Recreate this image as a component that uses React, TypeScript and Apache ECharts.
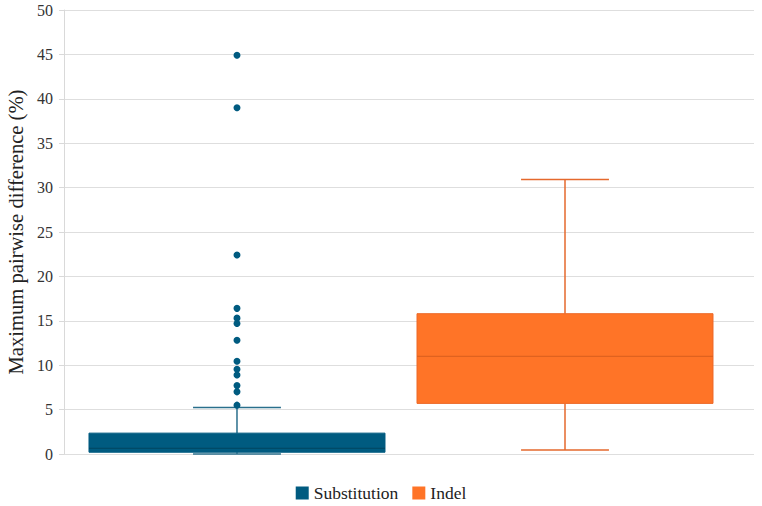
import React, { useEffect, useRef } from "react";
import * as echarts from "echarts";

const categories = ["Substitution", "Indel"];
// [min, q1, median, q3, max]
const boxSubstitution = [0, 0.2, 0.65, 2.35, 5.25];
const boxIndel = [0.45, 5.7, 11.0, 15.8, 30.9];
const outliersSubstitution = [44.9, 39.0, 22.4, 16.4, 15.3, 14.7, 12.8, 10.45, 9.55, 8.9, 7.7, 7.0, 5.5];
const yTicks = [0, 5, 10, 15, 20, 25, 30, 35, 40, 45, 50];

const colors = {
  Substitution: { fill: "#005B80", border: "#005B80", median: "#00445f", whisker: "#2a6f8c" },
  Indel: { fill: "#FF7427", border: "#EC6827", median: "#E0621F", whisker: "#E5692D" },
};

const FONT = "Liberation Serif";

function makeRenderItem(c: { fill: string; border: string; median: string; whisker: string }) {
  return (params: any, api: any) => {
    const idx = api.value(0);
    const vmin = api.value(1);
    const q1 = api.value(2);
    const med = api.value(3);
    const q3 = api.value(4);
    const vmax = api.value(5);
    const unit = api.size([1, 0])[0];
    const boxW = unit * 0.9024;
    const capW = unit * 0.268;
    const pMin = api.coord([idx, vmin]);
    const pQ1 = api.coord([idx, q1]);
    const pMed = api.coord([idx, med]);
    const pQ3 = api.coord([idx, q3]);
    const pMax = api.coord([idx, vmax]);
    const x = pMin[0];
    return {
      type: "group",
      children: [
        { type: "line", shape: { x1: x, y1: pMax[1], x2: x, y2: pQ3[1] }, style: { stroke: c.whisker, lineWidth: 1.5 } },
        { type: "line", shape: { x1: x, y1: pMin[1], x2: x, y2: pQ1[1] }, style: { stroke: c.whisker, lineWidth: 1.5 } },
        { type: "line", shape: { x1: x - capW / 2, y1: pMax[1], x2: x + capW / 2, y2: pMax[1] }, style: { stroke: c.whisker, lineWidth: 1.5 } },
        { type: "line", shape: { x1: x - capW / 2, y1: pMin[1], x2: x + capW / 2, y2: pMin[1] }, style: { stroke: c.whisker, lineWidth: 1.5 } },
        {
          type: "rect",
          shape: { x: x - boxW / 2, y: pQ3[1], width: boxW, height: pQ1[1] - pQ3[1] },
          style: { fill: c.fill, stroke: c.border, lineWidth: 1 },
        },
        { type: "line", shape: { x1: x - boxW / 2, y1: pMed[1], x2: x + boxW / 2, y2: pMed[1] }, style: { stroke: c.median, lineWidth: 1.2 } },
      ],
    };
  };
}

export default function App() {
  const ref = useRef<HTMLDivElement>(null);
  useEffect(() => {
    if (!ref.current) return;
    const chart = echarts.init(ref.current, null, { renderer: "svg" });
    const option: any = {
      animation: false,
      backgroundColor: "#ffffff",
      textStyle: { fontFamily: FONT },
      grid: { left: 64, right: 8, top: 10, bottom: 52, outerBoundsMode: "none", containLabel: false },
      legend: {
        data: [
          { name: categories[0], itemStyle: { color: colors.Substitution.fill } },
          { name: categories[1], itemStyle: { color: colors.Indel.fill } },
        ],
        top: 479,
        left: "center",
        icon: "rect",
        itemWidth: 13,
        itemHeight: 13,
        itemGap: 14,
        textStyle: { fontFamily: FONT, fontSize: 17.5, color: "#222" },
      },
      xAxis: {
        type: "value",
        min: -0.5274,
        max: 1.5762,
        axisLine: { show: false },
        axisTick: { show: false },
        axisLabel: { show: false },
        splitLine: { show: false },
      },
      yAxis: {
        type: "value",
        min: 0,
        max: 50,
        interval: 5,
        name: "Maximum pairwise difference (%)",
        nameLocation: "middle",
        nameGap: 38,
        nameTextStyle: { fontFamily: FONT, fontSize: 20.6, color: "#222" },
        axisLine: { show: true, onZero: false, lineStyle: { color: "#d9d9d9", width: 1 } },
        axisTick: { show: true, length: 5, lineStyle: { color: "#d9d9d9" } },
        axisLabel: {
          fontFamily: FONT,
          fontSize: 16,
          color: "#333",
          margin: 11,
          formatter: (v: number) => (yTicks.includes(v) ? String(v) : ""),
        },
        splitLine: { show: true, lineStyle: { color: "#dedede", width: 1 } },
      },
      series: [
        {
          name: categories[0],
          type: "custom",
          itemStyle: { color: colors.Substitution.fill },
          renderItem: makeRenderItem(colors.Substitution),
          encode: { x: 0, y: [1, 2, 3, 4, 5] },
          data: [[0, ...boxSubstitution]],
          z: 2,
        },
        {
          name: categories[1],
          type: "custom",
          itemStyle: { color: colors.Indel.fill },
          renderItem: makeRenderItem(colors.Indel),
          encode: { x: 0, y: [1, 2, 3, 4, 5] },
          data: [[1, ...boxIndel]],
          z: 2,
        },
        {
          name: "outliers",
          type: "scatter",
          symbol: "circle",
          symbolSize: 7,
          itemStyle: { color: colors.Substitution.fill, opacity: 1 },
          data: outliersSubstitution.map((v) => [0, v]),
          z: 3,
        },
      ],
    };
    chart.setOption(option);
    return () => chart.dispose();
  }, []);
  return <div ref={ref} style={{ width: 762, height: 506, position: "absolute", left: 0, top: 0 }} />;
}
